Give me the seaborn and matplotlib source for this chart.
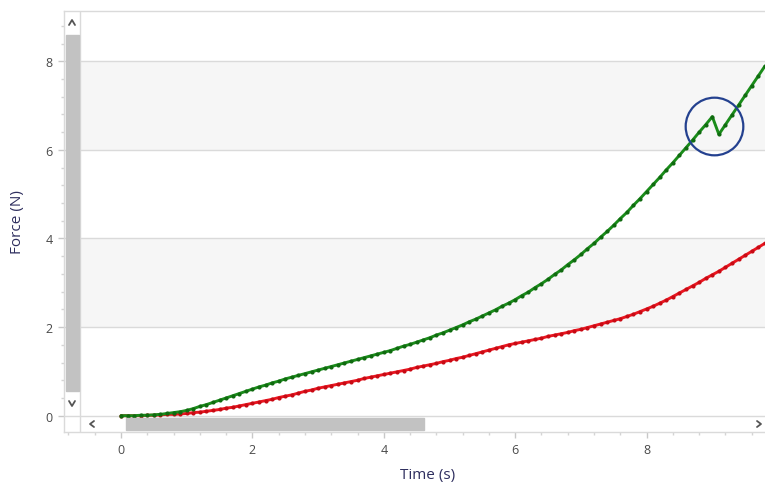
import numpy as np
import pandas as pd
import seaborn as sns
import matplotlib
matplotlib.use("Agg")
from matplotlib import pyplot as plt
from matplotlib.patches import Rectangle
from matplotlib.lines import Line2D

# ------------------------------------------------
# Data (0.1 s sampling)
# ------------------------------------------------
time_s = [round(0.1 * i, 1) for i in range(99)]

force_green = [
    0.00, 0.00, 0.00, 0.01, 0.01, 0.02, 0.03, 0.05, 0.07, 0.09,
    0.12, 0.16, 0.21, 0.25, 0.30, 0.35, 0.40, 0.45, 0.50, 0.55,
    0.60, 0.65, 0.69, 0.74, 0.78, 0.83, 0.87, 0.91, 0.95, 0.99,
    1.03, 1.07, 1.11, 1.15, 1.19, 1.23, 1.27, 1.31, 1.35, 1.39,
    1.43, 1.47, 1.52, 1.57, 1.61, 1.66, 1.71, 1.76, 1.82, 1.87,
    1.93, 1.99, 2.05, 2.12, 2.18, 2.25, 2.32, 2.39, 2.47, 2.54,
    2.62, 2.71, 2.79, 2.89, 2.98, 3.08, 3.19, 3.29, 3.41, 3.52,
    3.64, 3.77, 3.89, 4.03, 4.16, 4.30, 4.45, 4.59, 4.75, 4.90,
    5.06, 5.22, 5.38, 5.55, 5.71, 5.88, 6.05, 6.22, 6.40, 6.57,
    6.75, 6.35, 6.57, 6.79, 7.01, 7.23, 7.45, 7.67, 7.89,
]

force_red = [
    0.00, 0.00, 0.00, 0.00, 0.01, 0.01, 0.02, 0.03, 0.03, 0.04,
    0.05, 0.07, 0.08, 0.10, 0.12, 0.14, 0.17, 0.19, 0.22, 0.25,
    0.28, 0.31, 0.34, 0.37, 0.41, 0.44, 0.47, 0.51, 0.55, 0.58,
    0.62, 0.65, 0.68, 0.71, 0.74, 0.77, 0.80, 0.84, 0.87, 0.90,
    0.93, 0.96, 0.99, 1.02, 1.05, 1.09, 1.12, 1.15, 1.18, 1.22,
    1.25, 1.29, 1.32, 1.36, 1.40, 1.44, 1.48, 1.52, 1.56, 1.60,
    1.63, 1.66, 1.69, 1.72, 1.75, 1.79, 1.82, 1.85, 1.88, 1.92,
    1.95, 1.99, 2.03, 2.07, 2.11, 2.15, 2.19, 2.24, 2.29, 2.35,
    2.41, 2.47, 2.54, 2.61, 2.69, 2.77, 2.85, 2.93, 3.01, 3.10,
    3.18, 3.26, 3.35, 3.44, 3.53, 3.62, 3.71, 3.80, 3.89,
]

x_ticks = [0, 2, 4, 6, 8]
y_ticks = [0, 2, 4, 6, 8]
band_ranges = [(2, 4), (6, 8)]

df = pd.DataFrame({"Time": time_s, "Green": force_green, "Red": force_red})

# ------------------------------------------------
# Figure setup
# ------------------------------------------------
W, H = 765, 485
sns.set_style("white")
plt.rcParams["font.family"] = ["Open Sans", "DejaVu Sans"]

fig = plt.figure(figsize=(W / 100, H / 100), dpi=100)


def fx(px):
    return px / W


def fy(py):
    return 1 - py / H


# axes covers the scrollbar strips too (64..765, 12..433 px)
ax = fig.add_axes([fx(64), fy(433), fx(765) - fx(64), fy(12) - fy(433)])
ax.set_xlim(-0.868, 9.802)
ax.set_ylim(-0.368, 9.135)

grid_c = "#dadada"
inner_x0 = (80 - 64) / (765 - 64)   # start of the plotting region inside the axes

for lo, hi in band_ranges:
    ax.axhspan(lo, hi, xmin=inner_x0, xmax=1, color="#f6f6f6", lw=0, zorder=0)
for yv in y_ticks:
    ax.axhline(yv, xmin=0, xmax=1, color=grid_c, lw=1, zorder=1)
ax.axvline(-0.868 + 16 / 65.7, color=grid_c, lw=1, zorder=1)

# ------------------------------------------------
# Lines
# ------------------------------------------------
sns.lineplot(data=df, x="Time", y="Green", ax=ax, color="#1a8c1a", lw=2.1,
             marker="o", markersize=3.0, markeredgewidth=0,
             markerfacecolor="#106a10", zorder=4)
sns.lineplot(data=df, x="Time", y="Red", ax=ax, color="#ea1620", lw=2.1,
             marker="o", markersize=3.0, markeredgewidth=0,
             markerfacecolor="#c80a14", zorder=3)

# highlight circle around the spike
g = np.array(force_green)
k = int(np.argmin(np.diff(g)))
cx = (time_s[k] + time_s[k + 1]) / 2 - 0.03
cy = (g[k] + g[k + 1]) / 2
ax.plot([cx], [cy], marker="o", markersize=41.5, markerfacecolor="none",
        markeredgecolor="#24418f", markeredgewidth=1.6, zorder=6)

# ------------------------------------------------
# Axes styling
# ------------------------------------------------
for s in ["left", "bottom", "top"]:
    ax.spines[s].set_color(grid_c)
    ax.spines[s].set_linewidth(1)
ax.spines["right"].set_visible(False)

ax.set_xticks(x_ticks)
ax.set_yticks(y_ticks)
ax.set_xticks(np.arange(-0.8, 9.81, 0.4), minor=True)
ax.set_yticks(np.arange(0, 9.2, 0.4), minor=True)
ax.tick_params(axis="both", which="major", length=4, width=1, color="#c8c8c8",
               labelsize=9, labelcolor="#4a4a4a", pad=4)
ax.tick_params(axis="both", which="minor", length=2, width=1, color="#d4d4d4")
ax.tick_params(axis="x", which="both", bottom=True, direction="out")
ax.tick_params(axis="y", which="both", left=True, direction="out")

ax.set_xlabel("Time (s)", fontsize=11, color="#2f2f5f", va="center")
ax.set_ylabel("Force (N)", fontsize=11, color="#2f2f5f", va="center")
ax.xaxis.set_label_coords(0.518, -0.102)
ax.yaxis.set_label_coords(-0.066, 0.5)

# ------------------------------------------------
# Scrollbars (decoration)
# ------------------------------------------------
thumb_c = "#c2c2c2"
fig.patches.append(Rectangle((fx(66), fy(392)), fx(79) - fx(66), fy(36) - fy(392),
                             transform=fig.transFigure, color=thumb_c, zorder=5))
fig.patches.append(Rectangle((fx(126), fy(431)), fx(424) - fx(126), fy(419) - fy(431),
                             transform=fig.transFigure, color=thumb_c, zorder=5))
# grip marks
for (x0, y0, x1, y1) in [(68, 39, 77, 39), (68, 389, 77, 389),
                         (128, 421, 128, 429), (421, 421, 421, 429)]:
    fig.lines.append(Line2D([fx(x0), fx(x1)], [fy(y0), fy(y1)],
                            transform=fig.transFigure, color="#ececec", lw=1))
# arrow chevrons
arrow_c = "#555555"
for pts in [[(69, 26), (72, 21), (75, 26)],
            [(69, 402), (72, 407), (75, 402)],
            [(94, 422), (90, 425), (94, 428)],
            [(757, 422), (761, 425), (757, 428)]]:
    fig.lines.append(Line2D([fx(p[0]) for p in pts], [fy(p[1]) for p in pts],
                            transform=fig.transFigure, color=arrow_c, lw=1.3))

fig.savefig("out.png", dpi=100)
